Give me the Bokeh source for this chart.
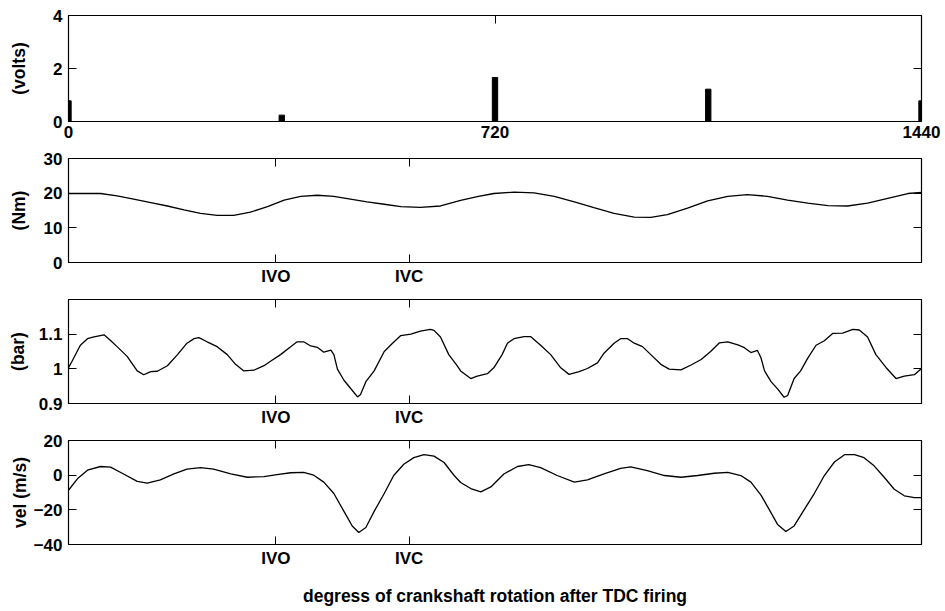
from bokeh.plotting import figure
from bokeh.layouts import column
from bokeh.models import LinearAxis, FixedTicker, Range1d, CustomJSTickFormatter
from bokeh.embed import file_html
from bokeh.resources import INLINE

# ---------------- data (degrees of crankshaft rotation after TDC firing) ----------------
pulse_deg = [0, 360, 720, 1080, 1440]
pulse_volts = [0.78, 0.24, 1.66, 1.22, 0.78]

tq_deg = [0, 54, 82, 110, 139, 167, 195, 223, 251, 279, 307, 336, 364, 392, 420, 448, 476, 504,
          533, 561, 594, 628, 662, 690, 718, 752, 786, 820, 854, 887, 921, 955, 983, 1011, 1045,
          1079, 1113, 1146, 1180, 1214, 1248, 1282, 1315, 1349, 1383, 1417, 1440]
tq_nm = [19.9, 19.9, 19.2, 18.3, 17.3, 16.3, 15.2, 14.2, 13.6, 13.6, 14.5, 16.1, 18.0, 19.1, 19.4,
         19.1, 18.3, 17.5, 16.8, 16.1, 15.9, 16.3, 17.9, 19.0, 19.9, 20.3, 20.1, 19.1, 17.5, 15.8,
         14.2, 13.1, 13.0, 13.8, 15.7, 17.8, 19.1, 19.6, 19.1, 18.0, 17.1, 16.4, 16.3, 17.1, 18.5,
         19.9, 20.2]

pr_deg = [0, 6, 20, 32, 43, 60, 71, 82, 99, 116, 127, 139, 150, 167, 184, 200, 212, 220, 234, 251,
          268, 282, 296, 313, 330, 341, 358, 375, 386, 397, 409, 420, 431, 443, 448, 454, 465, 476,
          488, 493, 502, 516, 533, 547, 561, 578, 594, 611, 617, 628, 642, 656, 662, 679, 690, 707,
          718, 732, 741, 752, 769, 780, 797, 814, 831, 845, 862, 876, 893, 904, 921, 932, 944, 955,
          969, 983, 1000, 1014, 1034, 1051, 1068, 1084, 1099, 1113, 1130, 1141, 1152, 1163, 1169,
          1175, 1186, 1197, 1208, 1214, 1225, 1236, 1248, 1262, 1276, 1290, 1307, 1324, 1335, 1349,
          1363, 1380, 1397, 1411, 1428, 1440]
pr_bar = [1.003, 1.022, 1.068, 1.087, 1.092, 1.098, 1.082, 1.064, 1.036, 0.994, 0.983, 0.992,
          0.993, 1.009, 1.041, 1.074, 1.087, 1.090, 1.078, 1.064, 1.041, 1.013, 0.994, 0.996, 1.009,
          1.022, 1.041, 1.064, 1.078, 1.078, 1.066, 1.062, 1.048, 1.054, 1.041, 0.999, 0.967, 0.944,
          0.919, 0.926, 0.963, 0.994, 1.050, 1.074, 1.096, 1.100, 1.109, 1.114, 1.111, 1.092, 1.041,
          1.009, 0.994, 0.972, 0.979, 0.986, 1.003, 1.041, 1.074, 1.087, 1.093, 1.093, 1.068, 1.041,
          1.003, 0.984, 0.992, 1.001, 1.017, 1.045, 1.074, 1.087, 1.087, 1.074, 1.064, 1.041, 1.013,
          0.999, 0.997, 1.011, 1.027, 1.050, 1.075, 1.078, 1.069, 1.061, 1.047, 1.053, 1.032, 0.994,
          0.963, 0.942, 0.918, 0.923, 0.972, 0.994, 1.031, 1.068, 1.081, 1.102, 1.103, 1.114, 1.112,
          1.092, 1.041, 1.004, 0.972, 0.979, 0.983, 1.001]

vel_deg = [0, 15, 32, 54, 71, 93, 116, 133, 155, 178, 200, 223, 245, 274, 302, 330, 352, 375, 397,
           414, 431, 448, 465, 479, 490, 502, 516, 533, 549, 566, 583, 600, 617, 634, 651, 662, 679,
           696, 713, 735, 758, 777, 797, 825, 854, 876, 904, 932, 949, 977, 1006, 1034, 1062, 1090,
           1113, 1135, 1152, 1169, 1183, 1197, 1211, 1225, 1242, 1259, 1276, 1293, 1310, 1327, 1343,
           1360, 1377, 1394, 1411, 1428, 1440]
vel_ms = [-8.7, -2.1, 2.9, 5.0, 4.6, 0.7, -3.6, -4.6, -2.7, 0.7, 3.5, 4.3, 3.5, 0.7, -1.2, -0.8,
          0.3, 1.4, 1.6, 0.0, -4.0, -10.6, -20.9, -29.3, -33.1, -30.2, -20.9, -10.6, -0.2, 6.3,
          10.1, 11.9, 11.0, 7.3, -0.2, -4.2, -7.7, -9.6, -6.8, 0.7, 5.0, 6.1, 4.4, -0.2, -4.0, -2.7,
          0.7, 3.9, 4.8, 2.6, -0.2, -1.2, -0.2, 1.1, 1.6, -0.2, -4.0, -11.5, -19.9, -28.4, -32.5,
          -29.3, -19.9, -10.6, -0.2, 7.6, 11.8, 11.9, 10.1, 5.4, -1.2, -8.1, -11.9, -13.0, -13.0]

top_xticks = [0, 720, 1440]
valve_ticks = [350, 575]
valve_labels = ["IVO", "IVC"]

FONT = "Liberation Sans"


def panel(ylo, yhi, yticks, xticks, xoverrides, ylabel, ylab_standoff,
          top, bottom, frame_h, xlabel=None):
    p = figure(frame_width=853, frame_height=frame_h,
               x_range=Range1d(0, 1440), y_range=Range1d(ylo, yhi),
               output_backend="svg", toolbar_location=None,
               min_border_left=68, min_border_right=22,
               min_border_top=top, min_border_bottom=bottom)
    p.xgrid.visible = False
    p.ygrid.visible = False
    p.outline_line_color = "black"
    p.outline_line_width = 1.2
    p.outline_line_alpha = 1.0

    xa = p.xaxis[0]
    xa.ticker = FixedTicker(ticks=xticks)
    if xoverrides:
        xa.major_label_overrides = xoverrides
    ya = p.yaxis[0]
    ya.ticker = FixedTicker(ticks=yticks)
    for ax in (xa, ya):
        ax.major_tick_in = 8
        ax.major_tick_out = 0
        ax.minor_tick_line_color = None
        ax.major_tick_line_color = "black"
        ax.axis_line_color = "black"
        ax.major_label_text_font = FONT
        ax.major_label_text_font_size = "17px"
        ax.major_label_text_font_style = "bold"
        ax.major_label_text_color = "black"
    xa.major_label_standoff = 4
    ya.major_label_standoff = 6
    ya.axis_label = ylabel
    ya.axis_label_text_font = FONT
    ya.axis_label_text_font_size = "17.5px"
    ya.axis_label_text_font_style = "bold"
    ya.axis_label_text_color = "black"
    ya.axis_label_standoff = ylab_standoff
    if xlabel:
        xa.axis_label = xlabel
        xa.axis_label_text_font = FONT
        xa.axis_label_text_font_size = "17.5px"
        xa.axis_label_text_font_style = "bold"
        xa.axis_label_text_color = "black"
        xa.axis_label_standoff = 15

    blank = "return ''"
    ta = LinearAxis(ticker=FixedTicker(ticks=xticks),
                    formatter=CustomJSTickFormatter(code=blank),
                    major_tick_in=8, major_tick_out=0, major_label_standoff=0,
                    minor_tick_line_color=None, axis_line_color="black")
    p.add_layout(ta, "above")
    ra = LinearAxis(ticker=FixedTicker(ticks=yticks),
                    formatter=CustomJSTickFormatter(code=blank),
                    major_tick_in=8, major_tick_out=0, major_label_standoff=0,
                    minor_tick_line_color=None, axis_line_color="black")
    p.add_layout(ra, "right")
    return p


valve_over = {t: l for t, l in zip(valve_ticks, valve_labels)}

p1 = panel(0, 4, [0, 2, 4], top_xticks, None, "(volts)", 21, 15, 26, 106)
p1.vbar(x=pulse_deg, top=pulse_volts, bottom=0, width=9, color="black")

p2 = panel(0, 30, [0, 10, 20, 30], valve_ticks, valve_over, "(Nm)", 12, 11, 26, 104)
p2.line(tq_deg, tq_nm, line_color="black", line_width=1.3)

p3 = panel(0.9, 1.2, [0.9, 1, 1.1], valve_ticks, valve_over, "(bar)", 8, 11, 26, 104)
p3.yaxis[0].major_label_overrides = {0.9: "0.9", 1: "1", 1.1: "1.1"}
p3.line(pr_deg, pr_bar, line_color="black", line_width=1.3)

p4 = panel(-40, 20, [-40, -20, 0, 20], valve_ticks, valve_over, "vel (m/s)", 1, 11, 64, 104,
           xlabel="degress of crankshaft rotation after TDC firing")
p4.line(vel_deg, vel_ms, line_color="black", line_width=1.3)

layout = column(p1, p2, p3, p4, spacing=0)
open("out.html", "w").write(file_html(layout, INLINE))
